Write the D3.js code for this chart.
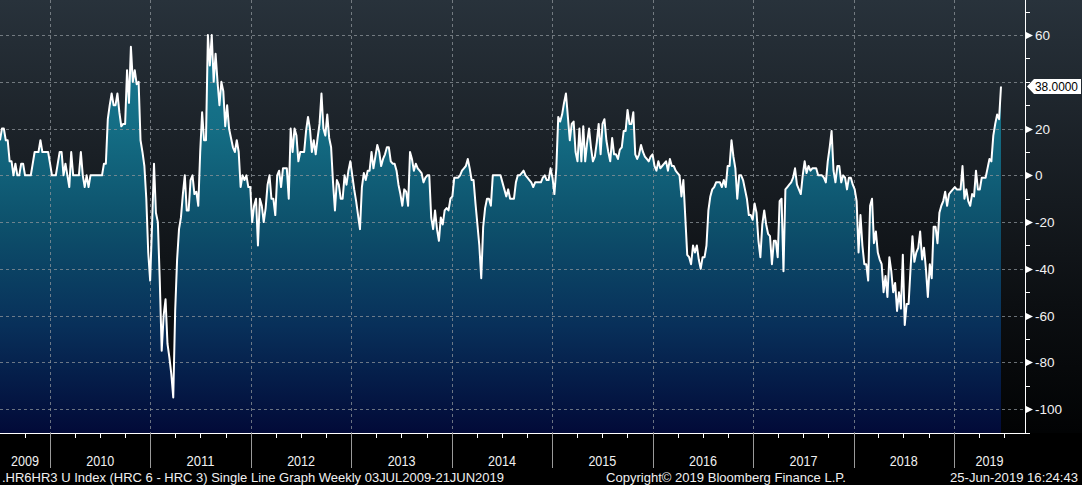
<!DOCTYPE html>
<html><head><meta charset="utf-8">
<script src="https://cdn.jsdelivr.net/npm/d3@7"></script>
<style>html,body{margin:0;padding:0;background:#000;overflow:hidden}svg{display:block}</style>
</head><body>
<script>
// Weekly values of .HR6HR3 U Index (HRC 6 - HRC 3), 03JUL2009 - 21JUN2019
const startDate = "2009-07-03";
const endDate = "2019-06-21";
const values = [
15,20,20,15,15,6,6,0,5,0,
0,5,5,0,0,0,0,5,10,10,
10,15,10,10,10,10,5,0,0,0,
5,10,10,0,5,0,-5,10,0,0,
0,0,10,0,-5,0,-5,0,0,0,
0,0,0,0,5,5,24,30,35,30,
30,35,27,21,22,22,45,31,55,40,
45,39,40,15,10,4,-10,-33,-45,-21,
5,-16,-20,-45,-75,-60,-53,-72,-78,-85,
-95,-58,-36,-23,-18,-8,0,-15,-15,-2,
0,-8,-7,-13,10,27,15,15,60,47,
60,40,52,40,30,40,36,21,30,20,
16,12,10,15,10,-5,0,-2,0,-5,
-5,-20,-13,-10,-30,-10,-13,-20,-14,-4,
0,-10,-10,-17,0,2,-5,3,3,3,
-10,20,10,20,17,6,10,10,10,19,
25,20,10,15,9,16,22,35,20,17,
26,16,12,-3,-15,-2,-4,-10,-10,0,
-4,2,6,0,-6,-11,-17,-23,-5,1,
-2,2,2,10,3,8,13,10,4,7,
9,12,12,6,5,5,2,-4,-8,-13,
-6,-7,-13,10,7,2,5,3,2,1,
-3,-1,0,0,-18,-23,-15,-23,-28,-18,
-21,-15,-14,-15,-10,-9,-1,-1,-1,0,
2,3,4,7,3,-2,-2,-12,-21,-30,
-44,-22,-14,-10,-10,-13,0,0,0,0,
0,-3,-6,-9,-6,-10,-10,-10,-3,0,
0,1,2,0,-1,-2,-3,-5,-3,-3,
-3,-3,-1,0,-2,-2,3,-1,-8,3,
25,23,26,31,35,25,15,22,23,10,
6,20,6,21,6,14,20,12,6,8,
14,22,9,22,24,15,10,6,16,9,
9,7,11,12,19,19,28,22,22,27,
9,7,9,13,10,8,7,6,8,9,
4,2,6,3,4,5,6,2,7,4,
4,2,1,0,-9,-2,-18,-34,-35,-38,
-30,-33,-30,-36,-40,-35,-35,-30,-15,-9,
-6,-5,-3,-3,-3,-5,-2,-5,4,4,
15,8,3,-10,0,0,-2,-6,-10,-17,
-17,-19,-12,-16,-28,-35,-21,-15,-21,-25,
-26,-38,-28,-28,-35,-11,-10,-41,-6,-5,
-4,-3,-1,3,-4,-6,-8,0,6,1,
4,2,3,3,3,0,0,0,-1,-3,
6,12,19,2,-3,4,4,-3,0,-1,
-6,-1,-1,-4,-6,-11,-33,-17,-30,-38,
-38,-45,-13,-10,-29,-24,-33,-36,-38,-50,
-43,-52,-35,-41,-50,-46,-58,-50,-57,-34,
-64,-55,-55,-40,-26,-37,-33,-31,-24,-36,
-31,-40,-52,-38,-44,-22,-22,-29,-16,-13,
-11,-7,-13,-8,-7,-6,-5,-6,-6,-6,
4,-10,-6,-11,-13,-8,-9,2,-6,-6,
-1,-1,-1,3,7,6,17,22,26,24,
38
];
const yearLabels = ["2009","2010","2011","2012","2013","2014","2015","2016","2017","2018","2019"];
const yTickLabels = [60,40,20,0,-20,-40,-60,-80,-100];
const lastValueLabel = "38.0000";
const footerLeft = ".HR6HR3 U Index (HRC 6 - HRC 3) Single Line Graph  Weekly 03JUL2009-21JUN2019";
const footerMid = "Copyright\u00a9 2019 Bloomberg Finance L.P.";
const footerRight = "25-Jun-2019 16:24:43";

const W = 1082, H = 485, plotBottom = 433, axisX = 1025, dataRight = 1001;
const FONT = "Liberation Sans, Arial, sans-serif";
const parse = d3.utcParse("%Y-%m-%d");
const t0 = parse(startDate), t1 = parse(endDate);
const data = values.map((v, i) => ({ date: d3.utcDay.offset(t0, 7 * i), v }));

const x = d3.scaleUtc().domain([t0, t1]).range([0, dataRight]);
const y = d3.scaleLinear().domain([-110.2, 75]).range([plotBottom, 0]);

const svg = d3.select("body").append("svg").attr("width", W).attr("height", H);
const defs = svg.append("defs");
const bg = defs.append("linearGradient").attr("id", "bg").attr("gradientUnits", "userSpaceOnUse")
  .attr("x1", 0).attr("y1", 0).attr("x2", 0).attr("y2", plotBottom);
[[0, "#28323b"], [0.35, "#1a2026"], [0.7, "#0c0f12"], [1, "#020304"]].forEach(s =>
  bg.append("stop").attr("offset", s[0]).attr("stop-color", s[1]));
const fg = defs.append("linearGradient").attr("id", "fill").attr("gradientUnits", "userSpaceOnUse")
  .attr("x1", 0).attr("y1", 0).attr("x2", 0).attr("y2", plotBottom);
[[0, "#1b8099"], [0.3, "#146d84"], [0.52, "#0d506b"], [0.75, "#08305a"], [1, "#020a38"]].forEach(s =>
  fg.append("stop").attr("offset", s[0]).attr("stop-color", s[1]));

svg.append("rect").attr("width", W).attr("height", H).attr("fill", "#000");
svg.append("rect").attr("width", W).attr("height", plotBottom).attr("fill", "url(#bg)");

// area
svg.append("path").datum(data)
  .attr("d", d3.area().x(d => x(d.date)).y0(plotBottom).y1(d => y(d.v)))
  .attr("fill", "url(#fill)");

// grid
const years = d3.utcYear.range(d3.utcYear.ceil(t0), t1);
svg.append("g").selectAll("line").data(yTickLabels).join("line")
  .attr("x1", 0).attr("x2", axisX).attr("y1", d => Math.round(y(d)) + 0.5).attr("y2", d => Math.round(y(d)) + 0.5)
  .attr("stroke", "#8d9499").attr("stroke-opacity", 0.75).attr("stroke-dasharray", "3,3");
svg.append("g").selectAll("line").data(years).join("line")
  .attr("x1", d => Math.round(x(d)) + 0.5).attr("x2", d => Math.round(x(d)) + 0.5)
  .attr("y1", 0).attr("y2", plotBottom)
  .attr("stroke", "#8d9499").attr("stroke-opacity", 0.75).attr("stroke-dasharray", "3,3");

// line
svg.append("path").datum(data)
  .attr("d", d3.line().x(d => x(d.date)).y(d => y(d.v)))
  .attr("fill", "none").attr("stroke", "#ffffff").attr("stroke-width", 2).attr("stroke-linejoin", "round");

// right axis
svg.append("line").attr("x1", axisX + 0.5).attr("x2", axisX + 0.5).attr("y1", 0).attr("y2", plotBottom)
  .attr("stroke", "#fff");
const minor = d3.range(-110, 71, 10);
svg.append("g").selectAll("line").data(minor).join("line")
  .attr("x1", axisX).attr("x2", axisX + 5).attr("y1", d => Math.round(y(d)) + 0.5).attr("y2", d => Math.round(y(d)) + 0.5)
  .attr("stroke", "#fff");
const ly = y(values[values.length - 1]);
// tick labels hidden behind the last-value box are not drawn (as in the reference)
const shownTicks = yTickLabels.filter(d => Math.abs(y(d) - ly) > 12);
const yt = svg.append("g").selectAll("g").data(shownTicks).join("g")
  .attr("transform", d => `translate(${axisX},${Math.round(y(d)) + 0.5})`);
yt.append("path").attr("d", "M1,-3.5L8,0L1,3.5Z").attr("fill", "#fff");
yt.append("text").attr("x", 10).attr("dy", "0.36em").text(d => d < 0 ? "-" + Math.abs(d) : d)
  .attr("fill", "#f2f2f2").attr("font-family", FONT).attr("font-size", 13.5);

// last value label
const lg = svg.append("g").attr("transform", `translate(${axisX + 2},${ly})`);
lg.append("path").attr("d", "M0,0L7,-7.5L54,-7.5L54,7.5L7,7.5Z").attr("fill", "#fff");
lg.append("text").attr("x", 8).attr("dy", "0.36em").text(lastValueLabel)
  .attr("fill", "#000").attr("font-family", FONT).attr("font-size", 12)
  .attr("textLength", 43).attr("lengthAdjust", "spacingAndGlyphs");

// bottom axis
svg.append("line").attr("x1", 0).attr("x2", axisX + 1).attr("y1", plotBottom + 0.5).attr("y2", plotBottom + 0.5)
  .attr("stroke", "#fff");
const quarters = d3.utcMonth.every(3).range(t0, d3.utcDay.offset(t1, 15));
svg.append("g").selectAll("line").data(quarters).join("line")
  .attr("x1", d => Math.round(x(d)) + 0.5).attr("x2", d => Math.round(x(d)) + 0.5)
  .attr("y1", plotBottom).attr("y2", plotBottom + 5).attr("stroke", "#fff");
svg.append("g").selectAll("line").data(years).join("line")
  .attr("x1", d => Math.round(x(d)) + 0.5).attr("x2", d => Math.round(x(d)) + 0.5)
  .attr("y1", plotBottom).attr("y2", plotBottom + 35).attr("stroke", "#9a9a9a");
const bounds = [0, ...years.map(d => x(d)), axisX];
svg.append("g").selectAll("text").data(yearLabels).join("text")
  .attr("x", (d, i) => (bounds[i] + bounds[i + 1]) / 2).attr("y", plotBottom + 33)
  .attr("text-anchor", "middle").text(d => d)
  .attr("fill", "#f0f0f0").attr("font-family", FONT).attr("font-size", 14)
  .attr("textLength", 28).attr("lengthAdjust", "spacingAndGlyphs");

const foot = [[footerLeft, 2, 502], [footerMid, 606, 240], [footerRight, 950, 128]];
svg.append("g").selectAll("text").data(foot).join("text")
  .attr("x", d => d[1]).attr("y", 482).text(d => d[0])
  .attr("textLength", d => d[2]).attr("lengthAdjust", "spacingAndGlyphs")
  .attr("fill", "#f0f0f0").attr("font-family", FONT).attr("font-size", 13);
</script>
</body></html>
